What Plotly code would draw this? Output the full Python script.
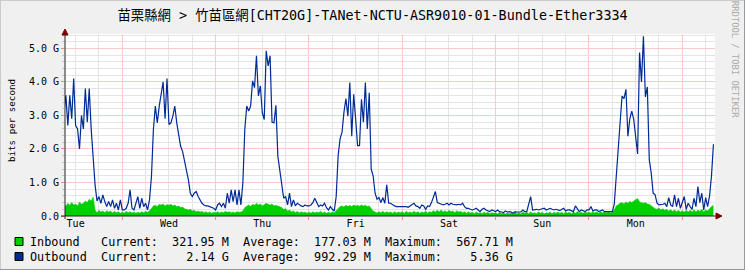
import math
import numpy as np
import plotly.graph_objects as go

# ---------------- data (Gbit/s, 30-minute samples) ----------------
day_names = ["Tue", "Wed", "Thu", "Fri", "Sat", "Sun", "Mon"]
start_hour = 9.0      # first sample: Tuesday 09:00 (hours since Tue 00:00)
step_hours = 0.5

out_tue1 = [3.1, 3.6, 2.7, 3.6, 2.9, 4.1, 2.7, 2.6, 2.0, 3.0, 2.6, 3.8, 2.8, 3.8, 2.6, 1.8,
            0.93, 0.45, 0.58, 0.38, 0.63, 0.43, 0.28, 0.43, 0.28, 0.48, 0.23, 0.38, 0.18, 0.48]
out_wed = [0.18, 0.18, 0.23, 0.38, 0.78, 0.23, 0.18, 0.38, 0.58, 0.23, 0.53, 0.28, 0.38, 0.18, 0.48, 1.18,
           2.58, 3.28, 2.78, 3.28, 3.6, 4.0, 2.9, 4.1, 2.73, 2.78, 2.98, 3.28, 2.78, 2.38, 2.08, 1.93,
           1.68, 1.38, 1.08, 0.68, 0.58, 0.68, 0.73, 0.58, 0.48, 0.38, 0.33, 0.3, 0.3, 0.28, 0.26, 0.23]
out_thu = [0.18, 0.33, 0.38, 0.28, 0.38, 0.23, 0.68, 0.38, 0.78, 0.43, 0.78, 0.33, 0.78, 0.33, 0.98, 2.58,
           3.28, 3.13, 3.28, 4.03, 3.83, 4.78, 3.58, 3.88, 3.08, 2.88, 4.93, 4.48, 4.78, 2.8, 2.78, 3.3,
           1.78, 1.38, 0.98, 0.53, 0.58, 0.33, 0.68, 0.28, 0.48, 0.3, 0.38, 0.33, 0.3, 0.28, 0.33, 0.3]
out_fri = [0.3, 0.33, 0.4, 0.53, 0.4, 0.28, 0.33, 0.3, 0.38, 0.25, 0.18, 0.28, 0.2, 0.15, 0.58, 1.8,
           2.3, 2.5, 3.1, 3.5, 2.98, 3.98, 2.38, 3.63, 2.9, 2.1, 2.1, 3.48, 2.8, 3.98, 2.6, 3.68,
           1.4, 1.2, 0.68, 0.5, 0.55, 0.4, 0.55, 0.38, 0.93, 0.38, 0.38, 0.33, 0.3, 0.28, 0.28, 0.28]
out_sat = [0.3, 0.28, 0.28, 0.26, 0.3, 0.35, 0.38, 0.3, 0.28, 0.23, 0.33, 0.3, 0.2, 0.3, 0.28, 0.4,
           0.55, 0.73, 0.4, 0.38, 0.35, 0.33, 0.35, 0.38, 0.33, 0.38, 0.35, 0.33, 0.33, 0.35, 0.33, 0.38,
           0.28, 0.23, 0.23, 0.2, 0.18, 0.2, 0.23, 0.18, 0.13, 0.2, 0.23, 0.18, 0.15, 0.13, 0.18, 0.15]
out_sun = [0.13, 0.18, 0.13, 0.12, 0.1, 0.15, 0.12, 0.13, 0.12, 0.08, 0.13, 0.12, 0.13, 0.12, 0.18, 0.13,
           0.13, 0.4, 0.58, 0.18, 0.2, 0.2, 0.18, 0.2, 0.2, 0.23, 0.18, 0.2, 0.23, 0.2, 0.18, 0.2,
           0.18, 0.16, 0.2, 0.23, 0.15, 0.18, 0.18, 0.15, 0.13, 0.3, 0.2, 0.13, 0.18, 0.15, 0.13, 0.18]
out_mon = [0.18, 0.28, 0.15, 0.18, 0.18, 0.13, 0.15, 0.18, 0.13, 0.13, 0.13, 0.13, 0.13, 0.35, 1.1, 1.78,
           2.78, 3.58, 3.5, 3.78, 2.38, 2.9, 3.13, 2.88, 2.4, 1.85, 4.88, 4.0, 5.36, 3.55, 3.85, 1.68,
           1.28, 0.68, 0.63, 0.38, 0.33, 0.33, 0.35, 0.38, 0.28, 0.55, 0.33, 0.28, 0.63, 0.28, 0.53, 0.23]
out_tue2 = [0.4, 0.58, 0.2, 0.38, 0.28, 0.2, 0.53, 0.28, 0.88, 0.4, 0.68, 0.18, 0.55, 0.28, 0.6, 1.2, 2.14]

in_tue1 = [0.35, 0.3, 0.38, 0.32, 0.4, 0.33, 0.36, 0.3, 0.42, 0.35, 0.38, 0.45, 0.4, 0.5, 0.45, 0.568,
           0.18, 0.1, 0.17, 0.12, 0.15, 0.1, 0.16, 0.12, 0.15, 0.09, 0.14, 0.1, 0.13, 0.08]
in_wed = [0.12, 0.08, 0.14, 0.1, 0.13, 0.09, 0.12, 0.08, 0.11, 0.09, 0.13, 0.1, 0.14, 0.11, 0.16, 0.22,
          0.3, 0.32, 0.28, 0.35, 0.33, 0.36, 0.3, 0.34, 0.32, 0.35, 0.3, 0.33, 0.28, 0.3, 0.25, 0.27,
          0.22, 0.2, 0.18, 0.2, 0.15, 0.17, 0.13, 0.15, 0.12, 0.14, 0.1, 0.13, 0.09, 0.12, 0.08, 0.11]
in_thu = [0.1, 0.13, 0.09, 0.12, 0.1, 0.14, 0.11, 0.13, 0.1, 0.12, 0.09, 0.13, 0.11, 0.12, 0.15, 0.25,
          0.3, 0.33, 0.28, 0.35, 0.32, 0.38, 0.33, 0.36, 0.3, 0.34, 0.38, 0.35, 0.33, 0.36, 0.3, 0.32,
          0.3, 0.28, 0.25, 0.2, 0.22, 0.15, 0.18, 0.12, 0.15, 0.1, 0.14, 0.09, 0.13, 0.1, 0.12, 0.08]
in_fri = [0.12, 0.08, 0.13, 0.09, 0.12, 0.1, 0.14, 0.09, 0.12, 0.08, 0.11, 0.09, 0.12, 0.1, 0.15, 0.22,
          0.28, 0.3, 0.27, 0.32, 0.29, 0.31, 0.28, 0.33, 0.3, 0.32, 0.29, 0.33, 0.3, 0.32, 0.28, 0.3,
          0.22, 0.15, 0.12, 0.09, 0.13, 0.1, 0.14, 0.09, 0.13, 0.1, 0.12, 0.08, 0.13, 0.09, 0.12, 0.1]
in_sat = [0.13, 0.08, 0.14, 0.1, 0.12, 0.09, 0.15, 0.1, 0.13, 0.08, 0.12, 0.1, 0.14, 0.09, 0.13, 0.11,
          0.16, 0.12, 0.17, 0.13, 0.18, 0.12, 0.16, 0.11, 0.17, 0.13, 0.15, 0.1, 0.16, 0.12, 0.14, 0.1,
          0.13, 0.08, 0.12, 0.09, 0.11, 0.07, 0.12, 0.08, 0.1, 0.07, 0.12, 0.08, 0.11, 0.07, 0.1, 0.08]
in_sun = [0.1, 0.06, 0.11, 0.07, 0.1, 0.06, 0.09, 0.07, 0.1, 0.06, 0.11, 0.07, 0.1, 0.06, 0.12, 0.08,
          0.11, 0.07, 0.12, 0.08, 0.1, 0.07, 0.12, 0.08, 0.11, 0.07, 0.1, 0.08, 0.12, 0.07, 0.11, 0.08,
          0.12, 0.08, 0.11, 0.07, 0.12, 0.09, 0.11, 0.07, 0.12, 0.08, 0.13, 0.09, 0.11, 0.08, 0.12, 0.09]
in_mon = [0.12, 0.08, 0.13, 0.09, 0.12, 0.08, 0.13, 0.09, 0.12, 0.1, 0.13, 0.09, 0.12, 0.18, 0.3, 0.35,
          0.38, 0.4, 0.36, 0.42, 0.38, 0.44, 0.4, 0.45, 0.48, 0.52, 0.42, 0.4, 0.38, 0.4, 0.36, 0.35,
          0.3, 0.25, 0.22, 0.2, 0.24, 0.18, 0.22, 0.17, 0.2, 0.15, 0.19, 0.14, 0.18, 0.13, 0.17, 0.12]
in_tue2 = [0.16, 0.11, 0.18, 0.12, 0.17, 0.13, 0.19, 0.12, 0.18, 0.14, 0.2, 0.13, 0.18, 0.15, 0.22, 0.28, 0.322]

y_tick_values = [0, 1, 2, 3, 4, 5]
y_tick_labels = ["0.0", "1.0 G", "2.0 G", "3.0 G", "4.0 G", "5.0 G"]

series_names = ["Inbound", "Outbound"]
legend_current = ["321.95 M", "  2.14 G"]
legend_average = ["177.03 M", "992.29 M"]
legend_maximum = ["567.71 M", "  5.36 G"]

title_text = "苗栗縣網 > 竹苗區網[CHT20G]-TANet-NCTU-ASR9010-01-Bundle-Ether3334"

# ---------------- assemble ----------------
outbound = out_tue1 + out_wed + out_thu + out_fri + out_sat + out_sun + out_mon + out_tue2
inbound = in_tue1 + in_wed + in_thu + in_fri + in_sat + in_sun + in_mon + in_tue2
hours = start_hour + step_hours * np.arange(len(outbound))

X_RANGE = [9.27, 176.4]
Y_RANGE = [0, 5.43]

W, H = 745, 270
L, R, T, B = 65, 715, 34, 216
PW, PH = R - L, B - T


def px(x):
    return (x - L) / PW


def py(y):
    return (B - y) / PH


def snap_hour(h):
    """Move an x grid position onto the centre of its pixel column (rrdtool-like crisp grid)."""
    span = X_RANGE[1] - X_RANGE[0]
    p = L + (h - X_RANGE[0]) / span * PW
    p = math.floor(p) + 0.5
    return X_RANGE[0] + (p - L) / PW * span


def snap_val(v):
    span = Y_RANGE[1] - Y_RANGE[0]
    p = B - (v - Y_RANGE[0]) / span * PH
    p = math.floor(p) + 0.5
    return Y_RANGE[0] + (B - p) / PH * span


MONO = "DejaVu Sans Mono, monospace"
TITLE_FONT = "DejaVu Sans Mono, Noto Sans CJK TC, monospace"
GREEN = "#00CF00"
BLUE = "#002A97"
MGRID = "#F8CACA"
GRID = "#E4E4E4"
TICK_RED = "#F08C8C"

fig = go.Figure()
fig.add_trace(go.Scatter(x=hours, y=inbound, mode="lines", fill="tozeroy",
                         fillcolor=GREEN, line=dict(color=GREEN, width=0.5),
                         name=series_names[0], hoverinfo="skip"))
fig.add_trace(go.Scatter(x=hours, y=outbound, mode="lines",
                         line=dict(color=BLUE, width=1.2),
                         name=series_names[1], hoverinfo="skip"))

noon_ticks = [12 + 24 * i for i in range(len(day_names))]
day_bounds = [24 * i for i in range(1, 8)]
six_hours = [6 * i for i in range(2, 30) if (6 * i) % 24 != 0]
fifth_g = [round(0.2 * i, 1) for i in range(1, 28) if i % 5 != 0]

fig.update_layout(
    width=W, height=H, autosize=False,
    margin=dict(l=L, r=W - R, t=T, b=H - B, pad=0),
    paper_bgcolor="#F0F0F0", plot_bgcolor="#FFFFFF",
    showlegend=False,
    title=dict(text=title_text, x=0.5, xref="container", xanchor="center",
               y=1 - 15.5 / H, yref="container", yanchor="middle",
               font=dict(family=TITLE_FONT, size=13.4, color="#000000")),
    xaxis=dict(range=X_RANGE, tickmode="array", tickvals=noon_ticks, ticktext=day_names,
               showgrid=False, zeroline=False, ticks="", showline=False,
               tickfont=dict(family=MONO, size=10, color="#000000"),
               minor=dict(tickmode="array", tickvals=day_bounds, showgrid=False,
                          ticks="outside", ticklen=3, tickcolor=TICK_RED)),
    yaxis=dict(range=Y_RANGE, tickmode="array", tickvals=y_tick_values, ticktext=y_tick_labels,
               showgrid=False, zeroline=False, showline=False,
               ticks="outside", ticklen=3, tickcolor=TICK_RED,
               tickfont=dict(family=MONO, size=10, color="#000000"),
               minor=dict(tickmode="array", tickvals=fifth_g, showgrid=False,
                          ticks="outside", ticklen=2, tickcolor="#C4C4C4")),
)

# ---- grid on pixel centres, in data coordinates, between canvas and traces ----
shapes = []
for h in six_hours:
    xs = snap_hour(h)
    shapes.append(dict(type="line", xref="x", yref="y", layer="between",
                       x0=xs, x1=xs, y0=Y_RANGE[0], y1=Y_RANGE[1],
                       line=dict(color=GRID, width=1)))
for v in fifth_g:
    ys = snap_val(v)
    shapes.append(dict(type="line", xref="x", yref="y", layer="between",
                       x0=X_RANGE[0], x1=X_RANGE[1], y0=ys, y1=ys,
                       line=dict(color=GRID, width=1)))
for h in day_bounds:
    xs = snap_hour(h)
    shapes.append(dict(type="line", xref="x", yref="y", layer="between",
                       x0=xs, x1=xs, y0=Y_RANGE[0], y1=Y_RANGE[1],
                       line=dict(color=MGRID, width=1)))
for v in y_tick_values[1:]:
    ys = snap_val(v)
    shapes.append(dict(type="line", xref="x", yref="y", layer="between",
                       x0=X_RANGE[0], x1=X_RANGE[1], y0=ys, y1=ys,
                       line=dict(color=MGRID, width=1)))

annotations = []
annotations.append(dict(text="bits per second", x=px(11), y=py(121), xref="paper", yref="paper",
                        showarrow=False, textangle=-90, xanchor="center", yanchor="middle",
                        font=dict(family=MONO, size=9.2, color="#000000")))
annotations.append(dict(text="RRDTOOL / TOBI OETIKER", x=px(735), y=py(60), xref="paper", yref="paper",
                        showarrow=False, textangle=90, xanchor="center", yanchor="middle",
                        font=dict(family=MONO, size=8.8, color="#ABABAB")))

NB = "\u00a0"
row_y = [241.5, 256.5]
for i, name in enumerate(series_names):
    line = (f"{name:<10}Current:  {legend_current[i]:>8}  Average:  {legend_average[i]:>8}"
            f"  Maximum:  {legend_maximum[i]:>8}")
    annotations.append(dict(text=line.replace(" ", NB), x=px(29), y=py(row_y[i]),
                            xref="paper", yref="paper", showarrow=False,
                            xanchor="left", yanchor="middle", borderpad=0,
                            font=dict(family=MONO, size=11.8, color="#000000")))
fig.update_layout(annotations=annotations)

box_colors = [GREEN, BLUE]
for i, c in enumerate(box_colors):
    yc = row_y[i]
    shapes.append(dict(type="rect", xref="paper", yref="paper", layer="above",
                       x0=px(15), x1=px(23), y0=py(yc + 4), y1=py(yc - 4),
                       fillcolor=c, line=dict(color="#000000", width=1)))
# axis lines and arrows
shapes.append(dict(type="line", xref="paper", yref="paper", layer="above", x0=px(61), x1=px(716),
                   y0=py(216), y1=py(216), line=dict(color="#222222", width=1)))
shapes.append(dict(type="line", xref="paper", yref="paper", layer="above", x0=px(65), x1=px(65),
                   y0=py(219), y1=py(34), line=dict(color="#222222", width=1)))
shapes.append(dict(type="path", xref="paper", yref="paper", layer="above",
                   path=f"M {px(65)} {py(29)} L {px(62)} {py(35)} L {px(68)} {py(35)} Z",
                   fillcolor="#7F0000", line=dict(color="#7F0000", width=1)))
shapes.append(dict(type="path", xref="paper", yref="paper", layer="above",
                   path=f"M {px(722)} {py(216)} L {px(716)} {py(213)} L {px(716)} {py(219)} Z",
                   fillcolor="#7F0000", line=dict(color="#7F0000", width=1)))
# frame (3D shading)
shapes.append(dict(type="line", xref="paper", yref="paper", layer="above", x0=px(0), x1=px(745),
                   y0=py(0.5), y1=py(0.5), line=dict(color="#CBCBCB", width=1)))
shapes.append(dict(type="line", xref="paper", yref="paper", layer="above", x0=px(0.5), x1=px(0.5),
                   y0=py(0), y1=py(270), line=dict(color="#CBCBCB", width=1)))
shapes.append(dict(type="line", xref="paper", yref="paper", layer="above", x0=px(0), x1=px(745),
                   y0=py(269.5), y1=py(269.5), line=dict(color="#999999", width=1)))
shapes.append(dict(type="line", xref="paper", yref="paper", layer="above", x0=px(744.5), x1=px(744.5),
                   y0=py(0), y1=py(270), line=dict(color="#999999", width=1)))
fig.update_layout(shapes=shapes)

fig.write_html("out.html")
